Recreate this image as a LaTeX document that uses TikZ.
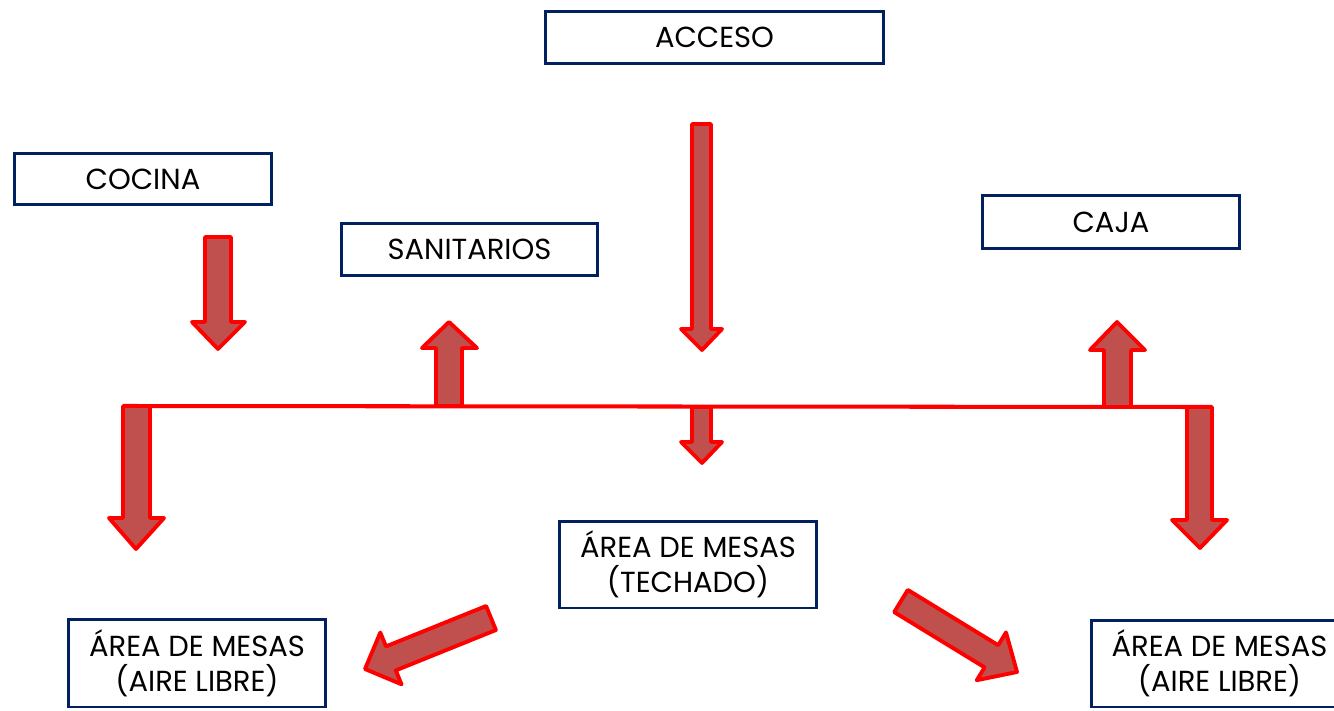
\documentclass[tikz,border=0pt]{standalone}
\usepackage{fontspec}
\setmainfont{Poppins}
\definecolor{boxnavy}{HTML}{002060}
\definecolor{arrfill}{HTML}{C0504D}
\definecolor{arrline}{HTML}{FF0000}
\begin{document}
\begin{tikzpicture}[x=0.02cm,y=-0.02cm,
  areabox/.style={draw=boxnavy, line width=1.7pt, fill=white, inner sep=0pt, align=center,
    font=\fontsize{16.5}{20}\selectfont},
  blk/.style={draw=arrline, fill=arrfill, line width=2.2pt, line join=round},
  bar/.style={draw=arrline, line width=2.3pt}]
\clip (0,0) rectangle (1334,710);
\fill[white] (0,0) rectangle (1334,710);

% boxes
\node[areabox, minimum width=6.76cm, minimum height=1.04cm] (acceso) at (714.5,37.5) {ACCESO};
\node[areabox, minimum width=5.14cm, minimum height=1.02cm] (cocina) at (143,179) {COCINA};
\node[areabox, minimum width=5.12cm, minimum height=1.04cm] (sanit) at (469.5,249.5) {SANITARIOS};
\node[areabox, minimum width=5.14cm, minimum height=1.06cm] (caja) at (1111,222) {CAJA};
\node[areabox, minimum width=5.14cm, minimum height=1.74cm] (techado) at (688,564.5) {ÁREA DE MESAS\\(TECHADO)};
\node[areabox, minimum width=5.14cm, minimum height=1.76cm] (libreL) at (197,663) {ÁREA DE MESAS\\(AIRE LIBRE)};
\node[areabox, minimum width=5.14cm, minimum height=1.74cm] (libreR) at (1219.5,663.5) {ÁREA DE MESAS\\(AIRE LIBRE)};

% distribution line
\coordinate (barL) at (123,406);
\coordinate (barR) at (1212,407);
\draw[bar] (barL) -- (barR);

% block arrows
% cocina down
\draw[blk] (205,237) -- (231,237) -- (231,322) -- (245,322) -- (218,349) -- (192,322) -- (205,322) -- cycle;
% acceso down
\draw[blk] (692,124) -- (711,124) -- (711,329) -- (722,329) -- (702,350) -- (681,329) -- (692,329) -- cycle;
% middle down
\draw[blk] (692,407) -- (711,407) -- (711,442) -- (722,442) -- (702,463) -- (681,442) -- (692,442) -- cycle;
% sanitarios up
\draw[blk] (436,406) -- (462,406) -- (462,348) -- (477,348) -- (449,322) -- (422,348) -- (436,348) -- cycle;
% caja up
\draw[blk] (1104,407) -- (1131,407) -- (1131,350) -- (1145,350) -- (1117,322) -- (1090,350) -- (1104,350) -- cycle;
% left down
\draw[blk] (123,406) -- (150,406) -- (150,518) -- (164,518) -- (136,549) -- (109,518) -- (123,518) -- cycle;
% right down
\draw[blk] (1187,407) -- (1212,407) -- (1212,520) -- (1227,520) -- (1200,548) -- (1172,520) -- (1187,520) -- cycle;
% diagonal left
\draw[blk] (495.9,630.0) -- (395.8,670.4) -- (401.5,684.3) -- (365,669) -- (380.3,632.5) -- (386.0,646.4) -- (486.1,606.0) -- cycle;
% diagonal right
\draw[blk] (894.2,612.1) -- (984.6,667.4) -- (976.8,680.2) -- (1017,672) -- (1006.0,632.4) -- (998.2,645.2) -- (907.8,589.9) -- cycle;
\end{tikzpicture}
\end{document}
